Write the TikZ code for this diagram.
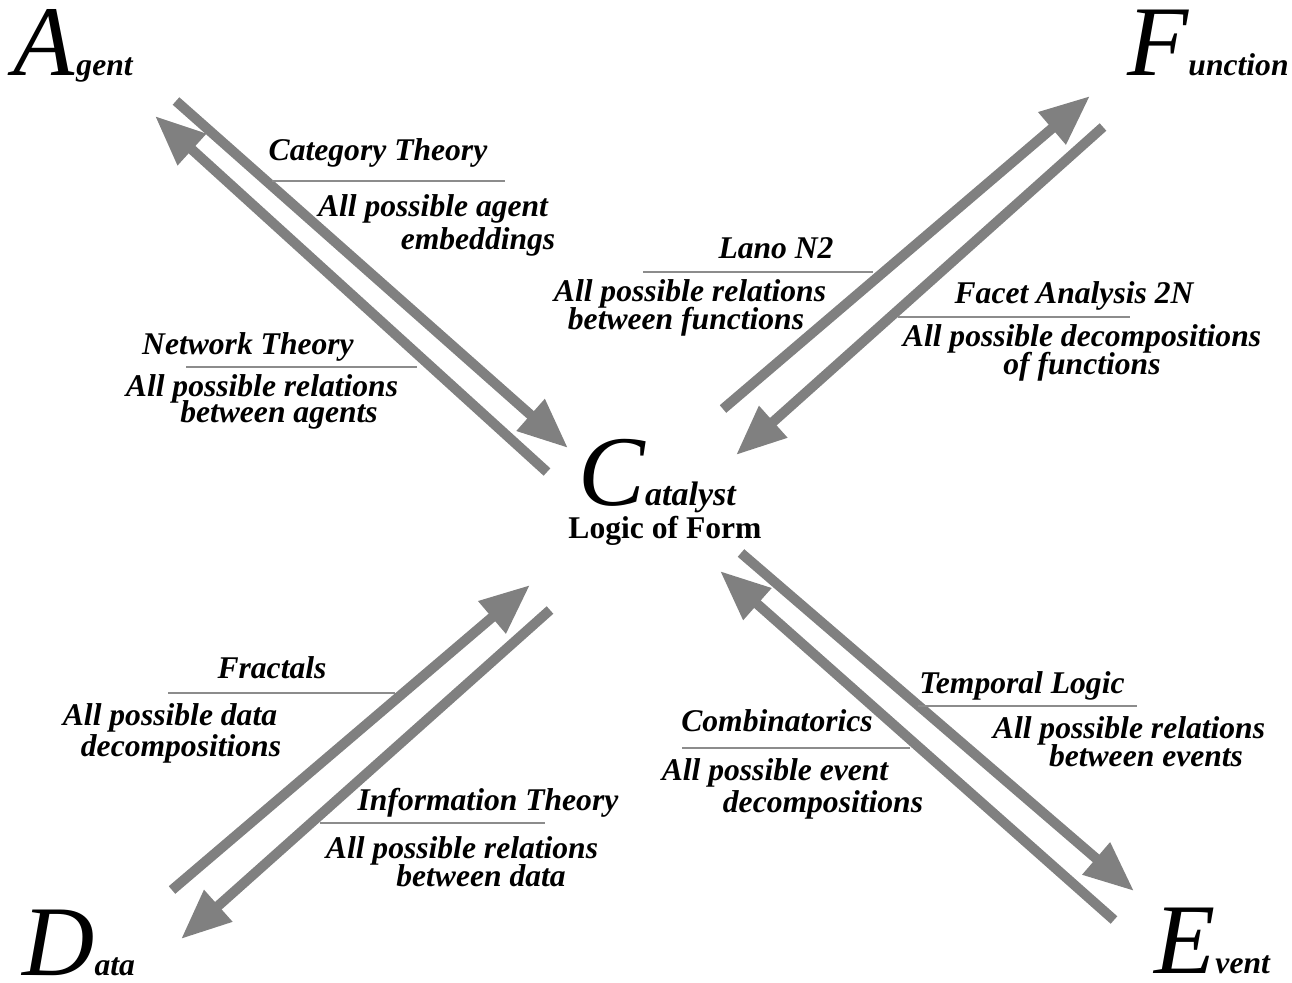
\documentclass[tikz,border=0pt]{standalone}
\usepackage{fontspec}
\setmainfont{Liberation Serif}
\usetikzlibrary{arrows.meta}
\definecolor{FlowGray}{HTML}{808080}
\definecolor{RuleGray}{HTML}{8C8C8C}
\newcommand{\bigini}[1]{{\fontsize{50}{50}\selectfont\itshape #1}}
\newcommand{\restword}[1]{{\fontsize{15.8}{16}\selectfont\bfseries\itshape #1}}

\begin{document}
\begin{tikzpicture}[x=0.5pt, y=-0.5pt,
    flow/.style={draw=FlowGray, line width=5pt, -{Triangle[length=25pt,width=20pt]}},
    rule/.style={draw=RuleGray, line width=0.7pt},
    lbl/.style={anchor=base, inner sep=0pt, text height=8pt, text depth=0pt,
        font=\fontsize{15.8}{16}\selectfont\bfseries\itshape},
    corner/.style={anchor=base west, inner sep=0pt, text height=33pt, text depth=0pt}]
    \useasboundingbox (0,0) rectangle (1292,982);

    % corners and centre
    \node[corner] (agent) at (13,75) {\bigini{A}\kern1pt\restword{gent}};
    \node[corner] (function) at (1127,75) {\bigini{F}\restword{unction}};
    \node[corner] (catalyst) at (578,505) {\bigini{C}\fontsize{17}{17}\selectfont\bfseries\itshape atalyst};
    \node[anchor=base, inner sep=0pt, text height=8pt, font=\fontsize{15.8}{16}\selectfont\bfseries] (form) at (665,538) {Logic of Form};
    \node[corner] (data) at (22,975) {\bigini{D}\restword{ata}};
    \node[corner] (event) at (1154,973) {\bigini{E}\restword{vent}};

    % arrow ends
    \coordinate (ag1s) at (176,101);  \coordinate (ag1e) at (568,448);
    \coordinate (ag2s) at (547,472);  \coordinate (ag2e) at (155,116);
    \coordinate (fn1s) at (723,409);  \coordinate (fn1e) at (1090,96);
    \coordinate (fn2s) at (1103,127); \coordinate (fn2e) at (736,455);
    \coordinate (da1s) at (172,890);  \coordinate (da1e) at (530,585);
    \coordinate (da2s) at (550,610);  \coordinate (da2e) at (181,939);
    \coordinate (ev1s) at (1114,920); \coordinate (ev1e) at (720,571);
    \coordinate (ev2s) at (741,553);  \coordinate (ev2e) at (1134,891);

    \draw[flow] (ag1s) -- (ag1e);
    \draw[flow] (ag2s) -- (ag2e);
    \draw[flow] (fn1s) -- (fn1e);
    \draw[flow] (fn2s) -- (fn2e);
    \draw[flow] (da1s) -- (da1e);
    \draw[flow] (da2s) -- (da2e);
    \draw[flow] (ev1s) -- (ev1e);
    \draw[flow] (ev2s) -- (ev2e);

    % agent side
    \node[lbl] (cattitle) at (378,160) {Category Theory};
    \draw[rule] (272,181) -- (505,181);
    \node[lbl] (cattext1) at (433,216) {All possible agent};
    \node[lbl] (cattext2) at (478,249) {embeddings};

    \node[lbl] (nettitle) at (248,354) {Network Theory};
    \draw[rule] (186,367) -- (417,367);
    \node[lbl] (nettext1) at (262,396) {All possible relations};
    \node[lbl] (nettext2) at (279,422) {between agents};

    % function side
    \node[lbl] (lanotitle) at (776,258) {Lano N2};
    \draw[rule] (643,272) -- (873,272);
    \node[lbl] (lanotext1) at (690,301) {All possible relations};
    \node[lbl] (lanotext2) at (686,329) {between functions};

    \node[lbl] (facettitle) at (1074,303) {Facet Analysis 2N};
    \draw[rule] (898,317) -- (1130,317);
    \node[lbl] (facettext1) at (1082,346) {All possible decompositions};
    \node[lbl] (facettext2) at (1082,374) {of functions};

    % data side
    \node[lbl] (fractitle) at (272,678) {Fractals};
    \draw[rule] (168,693) -- (395,693);
    \node[lbl] (fractext1) at (170,725) {All possible data};
    \node[lbl] (fractext2) at (181,756) {decompositions};

    \node[lbl] (infotitle) at (488,810) {Information Theory};
    \draw[rule] (320,823) -- (545,823);
    \node[lbl] (infotext1) at (462,858) {All possible relations};
    \node[lbl] (infotext2) at (481,886) {between data};

    % event side
    \node[lbl] (combtitle) at (777,731) {Combinatorics};
    \draw[rule] (682,748) -- (910,748);
    \node[lbl] (combtext1) at (775,780) {All possible event};
    \node[lbl] (combtext2) at (823,812) {decompositions};

    \node[lbl] (temptitle) at (1022,693) {Temporal Logic};
    \draw[rule] (918,706) -- (1137,706);
    \node[lbl] (temptext1) at (1129,738) {All possible relations};
    \node[lbl] (temptext2) at (1146,766) {between events};
\end{tikzpicture}
\end{document}
